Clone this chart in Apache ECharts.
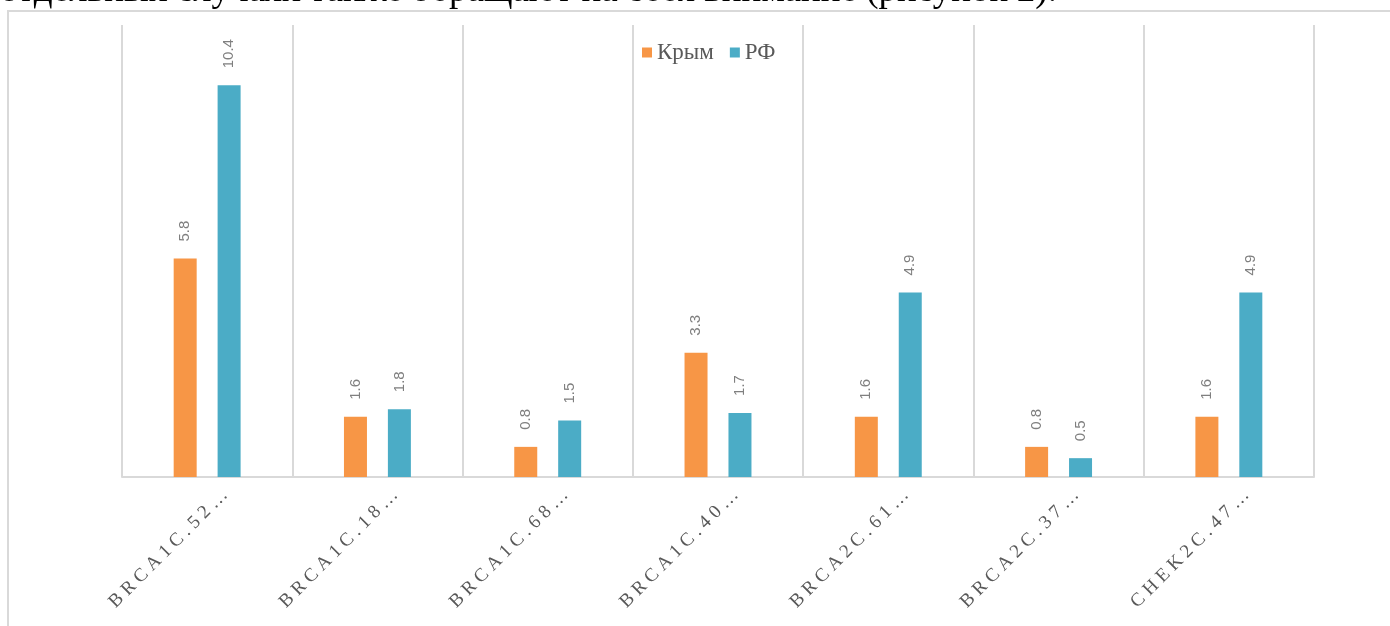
<!DOCTYPE html>
<html lang="ru">
<head>
<meta charset="UTF-8">
<title>BRCA / CHEK2</title>
<script src="https://cdn.jsdelivr.net/npm/echarts@6/dist/echarts.min.js"></script>
<style>
  html, body { margin: 0; padding: 0; background: #fff; overflow: hidden; }
  #chart { width: 1390px; height: 626px; }
</style>
</head>
<body>
<div id="chart"></div>
<script>
// категории (подписи обрезаны, как на рисунке)
var categories = ['BRCA1C.52 …', 'BRCA1C.18 …', 'BRCA1C.68 …', 'BRCA1C.40 …', 'BRCA2C.61 …', 'BRCA2C.37 …', 'CHEK2C.47 …'];
var crimea = [5.8, 1.6, 0.8, 3.3, 1.6, 0.8, 1.6];   // Крым
var russia = [10.4, 1.8, 1.5, 1.7, 4.9, 0.5, 4.9];  // РФ
var heading = 'отдельных случаях также обращают на себя внимание (рисунок 2).';

// разрядка букв в подписях оси
function spaced(s) {
    return s.split('').filter(function (c) { return c !== ' '; }).join('\u2005');
}

var myChart = echarts.init(document.getElementById('chart'));

var labelStyle = {
    show: true,
    position: 'top',
    rotate: 90,
    align: 'left',
    verticalAlign: 'middle',
    distance: 17,
    color: '#7f7f7f',
    fontFamily: 'Liberation Sans',
    fontSize: 15
};

var option = {
    animation: false,
    graphic: [
        {   // рамка диаграммы
            type: 'rect',
            shape: { x: 8, y: 11, width: 1500, height: 800 },
            style: { fill: 'none', stroke: '#d9d9d9', lineWidth: 2 }
        },
        {   // строка текста над рисунком
            type: 'text',
            left: 0,
            top: -27,
            style: {
                text: heading,
                font: '37px "Liberation Serif"',
                fill: '#000'
            }
        }
    ],
    legend: {
        left: 637,
        top: 36,
        itemWidth: 10,
        itemHeight: 10,
        itemGap: 16,
        icon: 'rect',
        textStyle: { fontFamily: 'Liberation Serif', fontSize: 23, color: '#595959' },
        data: ['Крым', 'РФ']
    },
    grid: { left: 122, right: 76, top: 25, bottom: 149 },
    xAxis: {
        type: 'category',
        data: categories,
        axisLine: { lineStyle: { color: '#d9d9d9', width: 2 } },
        axisTick: { show: false },
        splitLine: { show: true, interval: 0, lineStyle: { color: '#d9d9d9', width: 2 } },
        axisLabel: {
            interval: 0,
            rotate: 45,
            margin: 33,
            padding: [0, -25, 0, 0],
            color: '#595959',
            fontFamily: 'Liberation Serif',
            fontSize: 19,
            formatter: function (v) { return spaced(v); }
        }
    },
    yAxis: {
        type: 'value',
        min: 0,
        max: 12,
        show: false,
        splitLine: { show: false }
    },
    series: [
        {
            name: 'Крым',
            type: 'bar',
            data: crimea,
            barWidth: 23,
            barGap: '91%',
            itemStyle: { color: '#f79646' },
            label: labelStyle
        },
        {
            name: 'РФ',
            type: 'bar',
            data: russia,
            barWidth: 23,
            itemStyle: { color: '#4bacc6' },
            label: labelStyle
        }
    ]
};

myChart.setOption(option);
</script>
</body>
</html>
